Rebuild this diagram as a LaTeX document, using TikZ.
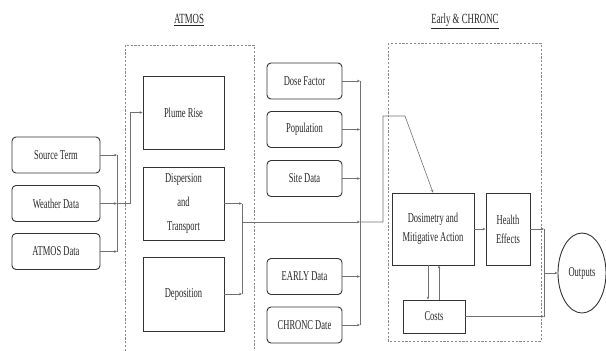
\documentclass[tikz,border=0pt]{standalone}
\usepackage{fontspec}
\setmainfont{Liberation Serif}[FakeStretch=0.63]
\usetikzlibrary{arrows.meta,shapes.geometric}
\definecolor{boxc}{HTML}{333333}
\definecolor{linec}{HTML}{707070}
\definecolor{dashc}{HTML}{8A8A8A}
\tikzset{
  rbox/.style={draw=boxc,line width=0.9pt,rounded corners=4pt,minimum width=#1,minimum height=36pt,inner sep=0pt,font=\fontsize{13.5}{15}\selectfont,text=black!85},
  sbox/.style={draw=boxc,line width=0.9pt,inner sep=0pt,font=\fontsize{13.5}{15}\selectfont,text=black!85,align=center},
  conn/.style={draw=linec,line width=0.6pt},
  arr/.style={conn,-{Stealth[length=3pt,width=2.6pt]}},
  grp/.style={draw=dashc,line width=0.8pt,dash pattern=on 2.2pt off 1.6pt},
  ttl/.style={font=\fontsize{14}{16}\selectfont,text=black!85,inner sep=0pt}
}
\begin{document}
\begin{tikzpicture}[x=1pt,y=-1pt]
\useasboundingbox (0,0) rectangle (606,351);
% group boxes
\draw[grp] (125,351) -- (125,45) -- (254,45) -- (254,351);
\draw[grp] (388,43) rectangle (541,341);
\node[ttl] (t1) at (189,20) {\underline{ATMOS}};
\node[ttl] (t2) at (465,21) {\underline{Early \& CHRONC}};
% left inputs
\node[rbox=88pt] (src) at (56,155) {Source Term};
\node[rbox=88pt] (wea) at (56,203.5) {Weather Data};
\node[rbox=88pt] (atd) at (56,251.5) {ATMOS Data};
% ATMOS
\node[sbox,minimum width=81pt,minimum height=73pt] (plume) at (183.5,112.5) {Plume Rise};
\node[sbox,minimum width=81pt,minimum height=73pt,font=\fontsize{13.5}{24}\selectfont] (disp) at (183.5,203.5) {Dispersion\\and\\Transport};
\node[sbox,minimum width=81pt,minimum height=74pt] (depo) at (183.5,294) {Deposition};
% middle inputs
\node[rbox=75pt] (dose) at (304.5,81) {Dose Factor};
\node[rbox=75pt] (pop) at (304.5,129.5) {Population};
\node[rbox=75pt] (site) at (304.5,178.5) {Site Data};
\node[rbox=75pt] (early) at (304.5,276.5) {EARLY Data};
\node[rbox=75pt] (chr) at (304.5,325) {CHRONC Date};
% Early & CHRONC
\node[sbox,minimum width=82pt,minimum height=72pt] (dos) at (433,229) {Dosimetry and\\[4pt]Mitigative Action};
\node[sbox,minimum width=44pt,minimum height=72pt] (hea) at (508,229) {Health\\[4pt]Effects};
\node[sbox,minimum width=62pt,minimum height=33pt] (cost) at (434,316.5) {Costs};
\node[ellipse,draw=boxc,line width=0.9pt,minimum width=48pt,minimum height=80pt,inner sep=0pt,font=\fontsize{13.5}{15}\selectfont,text=black!85] (out) at (582,273) {Outputs};
% coordinates
\coordinate (b1a) at (117,155);
\coordinate (b1b) at (117,203.5);
\coordinate (b1c) at (117,251.5);
\coordinate (b2a) at (242,203.5);
\coordinate (b2b) at (242,294);
\coordinate (b2m) at (242,222);
\coordinate (b3a) at (360,81);
\coordinate (b3b) at (360,129.5);
\coordinate (b3c) at (360,178.5);
\coordinate (b3m) at (360,222);
\coordinate (b3d) at (360,276.5);
\coordinate (b3e) at (360,325);
\coordinate (b4a) at (544,229);
\coordinate (b4b) at (544,316.5);
\coordinate (b4m) at (544,273);
% left bus
\draw[arr] (src.east) -- (b1a);
\draw[arr] (wea.east) -- (b1b);
\draw[arr] (atd.east) -- (b1c);
\draw[conn] (b1a) -- (b1c);
\draw[arr] (b1b) -- (130,203.5) -- (130,112.5) -- (plume.west);
% ATMOS output bus
\draw[arr] (disp.east |- b2a) -- (b2a);
\draw[arr] (depo.east |- b2b) -- (b2b);
\draw[conn] (b2a) -- (b2b);
\draw[arr] (b2m) -- (b3m);
% middle bus
\draw[arr] (dose.east) -- (b3a);
\draw[arr] (pop.east) -- (b3b);
\draw[arr] (site.east) -- (b3c);
\draw[arr] (early.east) -- (b3d);
\draw[arr] (chr.east) -- (b3e);
\draw[conn] (b3a) -- (b3e);
\draw[arr] (b3m) -- (383,222) -- (383,116) -- (405,116) -- (dos.north);
% right side
\draw[arr] (dos.east) -- (hea.west);
\draw[arr] (hea.east) -- (b4a);
\draw[arr] (cost.east) -- (b4b);
\draw[conn] (b4a) -- (b4b);
\draw[arr] (b4m) -- (out.west);
\draw[arr] (dos.south -| 428,0) -- (cost.north -| 428,0);
\draw[arr] (cost.north -| 439,0) -- (dos.south -| 439,0);
\end{tikzpicture}
\end{document}
